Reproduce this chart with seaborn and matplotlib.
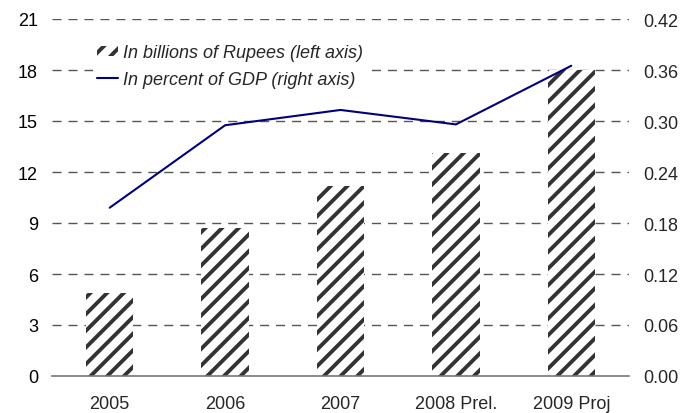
import matplotlib
matplotlib.use("Agg")
import matplotlib.pyplot as plt
import seaborn as sns
import pandas as pd
from matplotlib.patches import Patch
from matplotlib.lines import Line2D

categories = ["2005", "2006", "2007", "2008 Prel.", "2009 Proj"]
rupees_bn = [4.9, 8.7, 11.2, 13.1, 18.0]
pct_gdp = [0.198, 0.295, 0.313, 0.296, 0.365]
left_ticks = [0, 3, 6, 9, 12, 15, 18, 21]
right_ticks = [0.00, 0.06, 0.12, 0.18, 0.24, 0.30, 0.36, 0.42]

sns.set_theme(style="white")
plt.rcParams['font.family'] = ['Liberation Sans', 'DejaVu Sans']
plt.rcParams['hatch.color'] = '#333333'
plt.rcParams['hatch.linewidth'] = 2.8

df = pd.DataFrame({"cat": categories, "val": rupees_bn, "pct": pct_gdp})

fig = plt.figure(figsize=(6.87, 4.14), dpi=100)
ax = fig.add_axes([52/687, 37/414, 577/687, 357/414])

sns.barplot(data=df, x="cat", y="val", color="white", width=0.41,
            edgecolor="none", linewidth=0, ax=ax, zorder=2)
for p in ax.patches:
    p.set_hatch("//")
    p.set_facecolor("white")
    p.set_edgecolor("#333333")
    p.set_linewidth(0)

ax.set_xlim(-0.5, 4.5)
ax.set_ylim(0, 21)
ax.set_yticks(left_ticks)
ax.set_xlabel("")
ax.set_ylabel("")
for s in ["top", "left", "right"]:
    ax.spines[s].set_visible(False)
ax.spines["bottom"].set_color("#777777")
ax.spines["bottom"].set_linewidth(1.2)

for t in left_ticks[1:]:
    ax.axhline(t, color="#555555", linewidth=1.0, linestyle=(0, (6.5, 5)), zorder=0)

ax.tick_params(axis="y", length=0, labelsize=13, pad=10, colors="#000000")
ax.tick_params(axis="x", which="major", length=0, labelsize=13, pad=14)
ax.set_xticks([-0.5, 0.5, 1.5, 2.5, 3.5, 4.5], minor=True)
ax.tick_params(axis="x", which="minor", length=4, direction="out", color="#555555", width=1)

ax2 = ax.twinx()
sns.lineplot(x=list(range(len(categories))), y=pct_gdp, ax=ax2, color="#000080",
             linewidth=1.5, zorder=3)
ax2.set_ylim(0, 0.42)
ax2.set_yticks(right_ticks)
ax2.set_yticklabels([f"{v:.2f}" for v in right_ticks])
ax2.tick_params(axis="y", length=0, labelsize=13, pad=10)
for s in ["top", "left", "right", "bottom"]:
    ax2.spines[s].set_visible(False)
ax2.set_xlim(-0.5, 4.5)

handles = [Patch(facecolor="white", edgecolor="#333333", hatch="//", linewidth=0),
           Line2D([0], [0], color="#000080", linewidth=1.5)]
labels = ["In billions of Rupees (left axis)", "In percent of GDP (right axis)"]
leg = ax2.legend(handles, labels, loc="upper left", bbox_to_anchor=(0.056, 0.965),
                 frameon=True, facecolor="white", edgecolor="none", framealpha=1,
                 fancybox=False, prop={"style": "italic", "size": 13},
                 handlelength=1.15, handleheight=0.5, handletextpad=0.3,
                 labelspacing=0.55, borderpad=0.2)

fig.savefig("out.png", dpi=100)
